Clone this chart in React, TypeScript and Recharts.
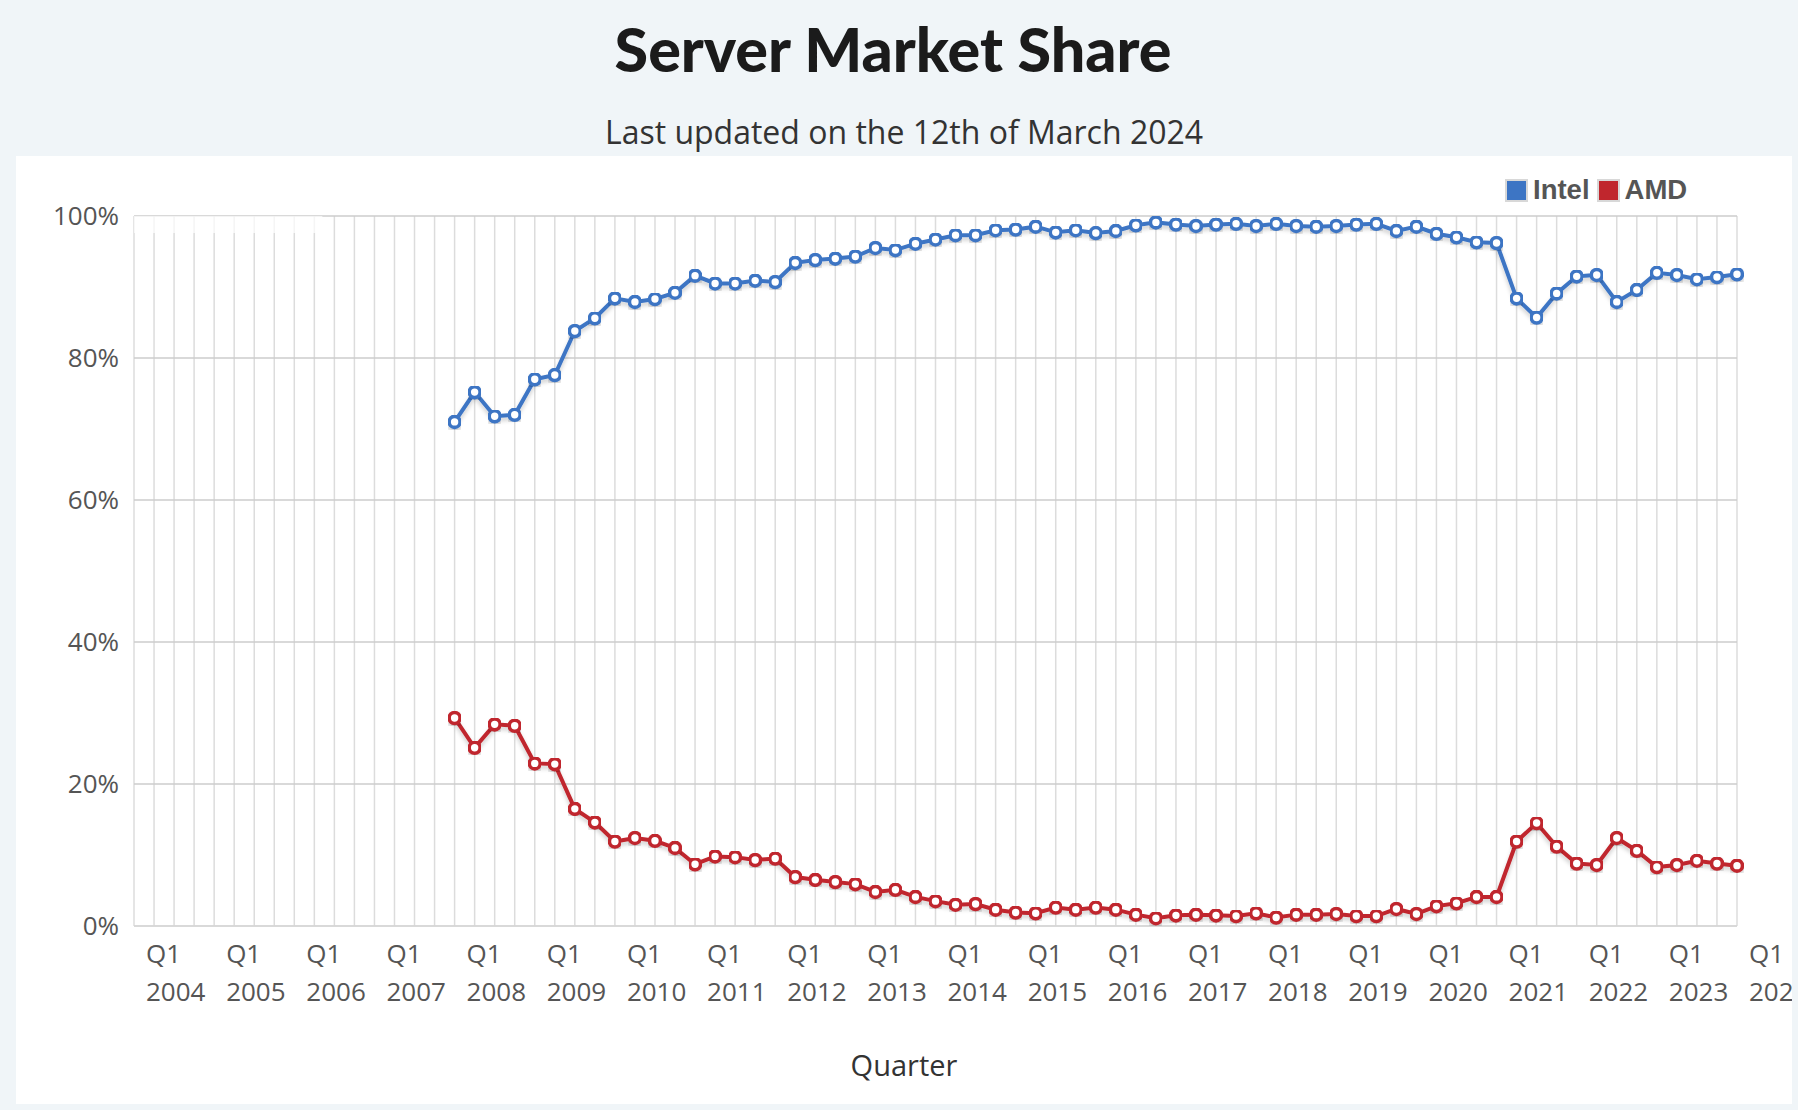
import React from 'react';
import { LineChart, Line, XAxis, YAxis, CartesianGrid, ReferenceArea } from 'recharts';

// ---- data ----
const years = [2004, 2005, 2006, 2007, 2008, 2009, 2010, 2011, 2012, 2013, 2014, 2015, 2016, 2017, 2018, 2019, 2020, 2021, 2022, 2023, 2024];
const quarterNames = ['Q1', 'Q2', 'Q3', 'Q4'];
const yTicks = [0, 20, 40, 60, 80, 100];
const firstDataQuarter = 'Q1 2008';

const intelShare = [
  71.0, 75.2, 71.8, 72.0, 77.0, 77.6, 83.8, 85.6, 88.4, 87.9, 88.3, 89.2, 91.6, 90.5, 90.5, 90.9, 90.7, 93.4, 93.8, 94.0, 94.3, 95.5,
  95.2, 96.1, 96.7, 97.3, 97.3, 98.0, 98.1, 98.5, 97.7, 98.0, 97.6, 97.9, 98.7, 99.1, 98.8, 98.6, 98.8, 98.9, 98.6, 98.9, 98.6,
  98.5, 98.6, 98.8, 98.9, 97.9, 98.5, 97.5, 97.0, 96.3, 96.2, 88.4, 85.7, 89.1, 91.5, 91.7, 87.9, 89.6, 92.0, 91.7, 91.1, 91.4, 91.8,
];

const amdShare = [
  29.3, 25.1, 28.4, 28.2, 22.9, 22.8, 16.5, 14.6, 11.9, 12.4, 12.0, 11.0, 8.7, 9.8, 9.7, 9.3, 9.5, 6.9, 6.5, 6.2, 5.9, 4.8,
  5.1, 4.1, 3.5, 3.0, 3.1, 2.3, 1.9, 1.8, 2.6, 2.3, 2.6, 2.3, 1.6, 1.1, 1.5, 1.6, 1.5, 1.4, 1.8, 1.2, 1.6,
  1.6, 1.7, 1.4, 1.4, 2.4, 1.7, 2.8, 3.2, 4.1, 4.1, 11.9, 14.5, 11.2, 8.8, 8.6, 12.4, 10.6, 8.3, 8.6, 9.2, 8.8, 8.5,
];

// categories: Q1 2004 ... Q1 2024
const quarters: string[] = [];
years.forEach((y) => quarterNames.forEach((q) => quarters.push(`${q} ${y}`)));
const categories = quarters.slice(0, quarters.indexOf('Q1 2024') + 1);
const startIdx = categories.indexOf(firstDataQuarter);

const data = categories.map((label, i) => ({
  i,
  label,
  intel: i >= startIdx ? intelShare[i - startIdx] : null,
  amd: i >= startIdx ? amdShare[i - startIdx] : null,
}));
const xTickIdx = data.map((d) => d.i);

// ---- style ----
const INTEL = '#3d75c4';
const AMD = '#c0262d';
const TICK = '#555555';
const FONT = '"Open Sans", sans-serif';

const XTick = (props: any) => {
  const { x, y, payload } = props;
  const lbl = categories[payload.value];
  if (!lbl || !lbl.startsWith('Q1')) return <g />;
  const [q, yr] = lbl.split(' ');
  const tx = x + 12;
  return (
    <text x={tx} y={y} fill={TICK} fontSize={26} fontFamily={FONT} textAnchor="start">
      <tspan x={tx} dy={37}>{q}</tspan>
      <tspan x={tx} dy={38}>{yr}</tspan>
    </text>
  );
};

const LegendItem = ({ color, label }: { color: string; label: string }) => (
  <div style={{ display: 'flex', alignItems: 'center', marginRight: 7 }}>
    <div style={{ width: 19, height: 19, background: color, border: '2px solid #d8d8d8', marginRight: 5 }} />
    <span style={{ fontFamily: '"Liberation Sans", Arial, sans-serif', fontWeight: 700, fontSize: 27.5, color: TICK, lineHeight: '24px' }}>{label}</span>
  </div>
);

export default function App() {
  return (
    <div style={{ position: 'absolute', left: 0, top: 0, width: 1798, height: 1110, background: '#f0f5f8', overflow: 'hidden' }}>
      <svg width={1798} height={156} style={{ position: 'absolute', left: 0, top: 0 }}>
        <text x={893} y={72} textAnchor="middle" fontFamily="Lato, sans-serif" fontWeight={900} fontSize={61} fill="#1b1b1b">
          Server Market Share
        </text>
        <text x={904} y={144} textAnchor="middle" fontFamily={FONT} fontSize={32} fill="#333333">
          Last updated on the 12th of March 2024
        </text>
      </svg>
      <div style={{ position: 'absolute', left: 16, top: 156, width: 1776, height: 948, background: '#ffffff', overflow: 'hidden' }}>
        <LineChart width={1776} height={948} data={data} margin={{ top: 60, right: 55, bottom: 0, left: 0 }}>
          <defs>
            <filter id="lineShadow" x="-5%" y="-5%" width="110%" height="120%">
              <feDropShadow dx="0" dy="3" stdDeviation="2" floodColor="#000000" floodOpacity="0.2" />
            </filter>
          </defs>
          <CartesianGrid vertical horizontal={false} stroke="#dcdcdc" strokeWidth={1.5} />
          <CartesianGrid horizontal vertical={false} stroke="#cccccc" strokeWidth={1.5} />
          <XAxis
            type="number"
            dataKey="i"
            domain={[0, categories.length - 1]}
            ticks={xTickIdx}
            interval={0}
            height={178}
            tickLine={false}
            tickSize={0}
            tickMargin={0}
            axisLine={{ stroke: '#d9d9d9', strokeWidth: 1.5 }}
            tick={<XTick />}
            allowDecimals={false}
            label={{
              content: (p: any) => {
                const vy = p && p.viewBox && typeof p.viewBox.y === 'number' ? p.viewBox.y : 770;
                return (
                  <text x={888} y={vy + 150} textAnchor="middle" fontFamily={FONT} fontSize={29} fill="#333333">
                    Quarter
                  </text>
                );
              },
            }}
          />
          <YAxis
            type="number"
            domain={[0, 100]}
            ticks={yTicks}
            width={118}
            axisLine={false}
            tickLine={false}
            tickSize={0}
            tickMargin={15}
            tickFormatter={(v: number) => `${v}%`}
            tick={{ fill: TICK, fontSize: 26, fontFamily: FONT }}
          />
          <ReferenceArea x1={0} x2={9.4} y1={97.6} y2={100} fill="#ffffff" fillOpacity={0.7} stroke="none" ifOverflow="visible" />
          <Line
            type="linear"
            dataKey="intel"
            stroke={INTEL}
            strokeWidth={4}
            dot={{ r: 5.5, fill: '#ffffff', stroke: INTEL, strokeWidth: 3.6 }}
            activeDot={false}
            isAnimationActive={false}
            style={{ filter: 'url(#lineShadow)' }}
          />
          <Line
            type="linear"
            dataKey="amd"
            stroke={AMD}
            strokeWidth={4}
            dot={{ r: 5.5, fill: '#ffffff', stroke: AMD, strokeWidth: 3.6 }}
            activeDot={false}
            isAnimationActive={false}
            style={{ filter: 'url(#lineShadow)' }}
          />
        </LineChart>
      </div>
      <div style={{ position: 'absolute', left: 1505, top: 178, display: 'flex', alignItems: 'center', height: 24 }}>
        <LegendItem color={INTEL} label="Intel" />
        <LegendItem color={AMD} label="AMD" />
      </div>
    </div>
  );
}
